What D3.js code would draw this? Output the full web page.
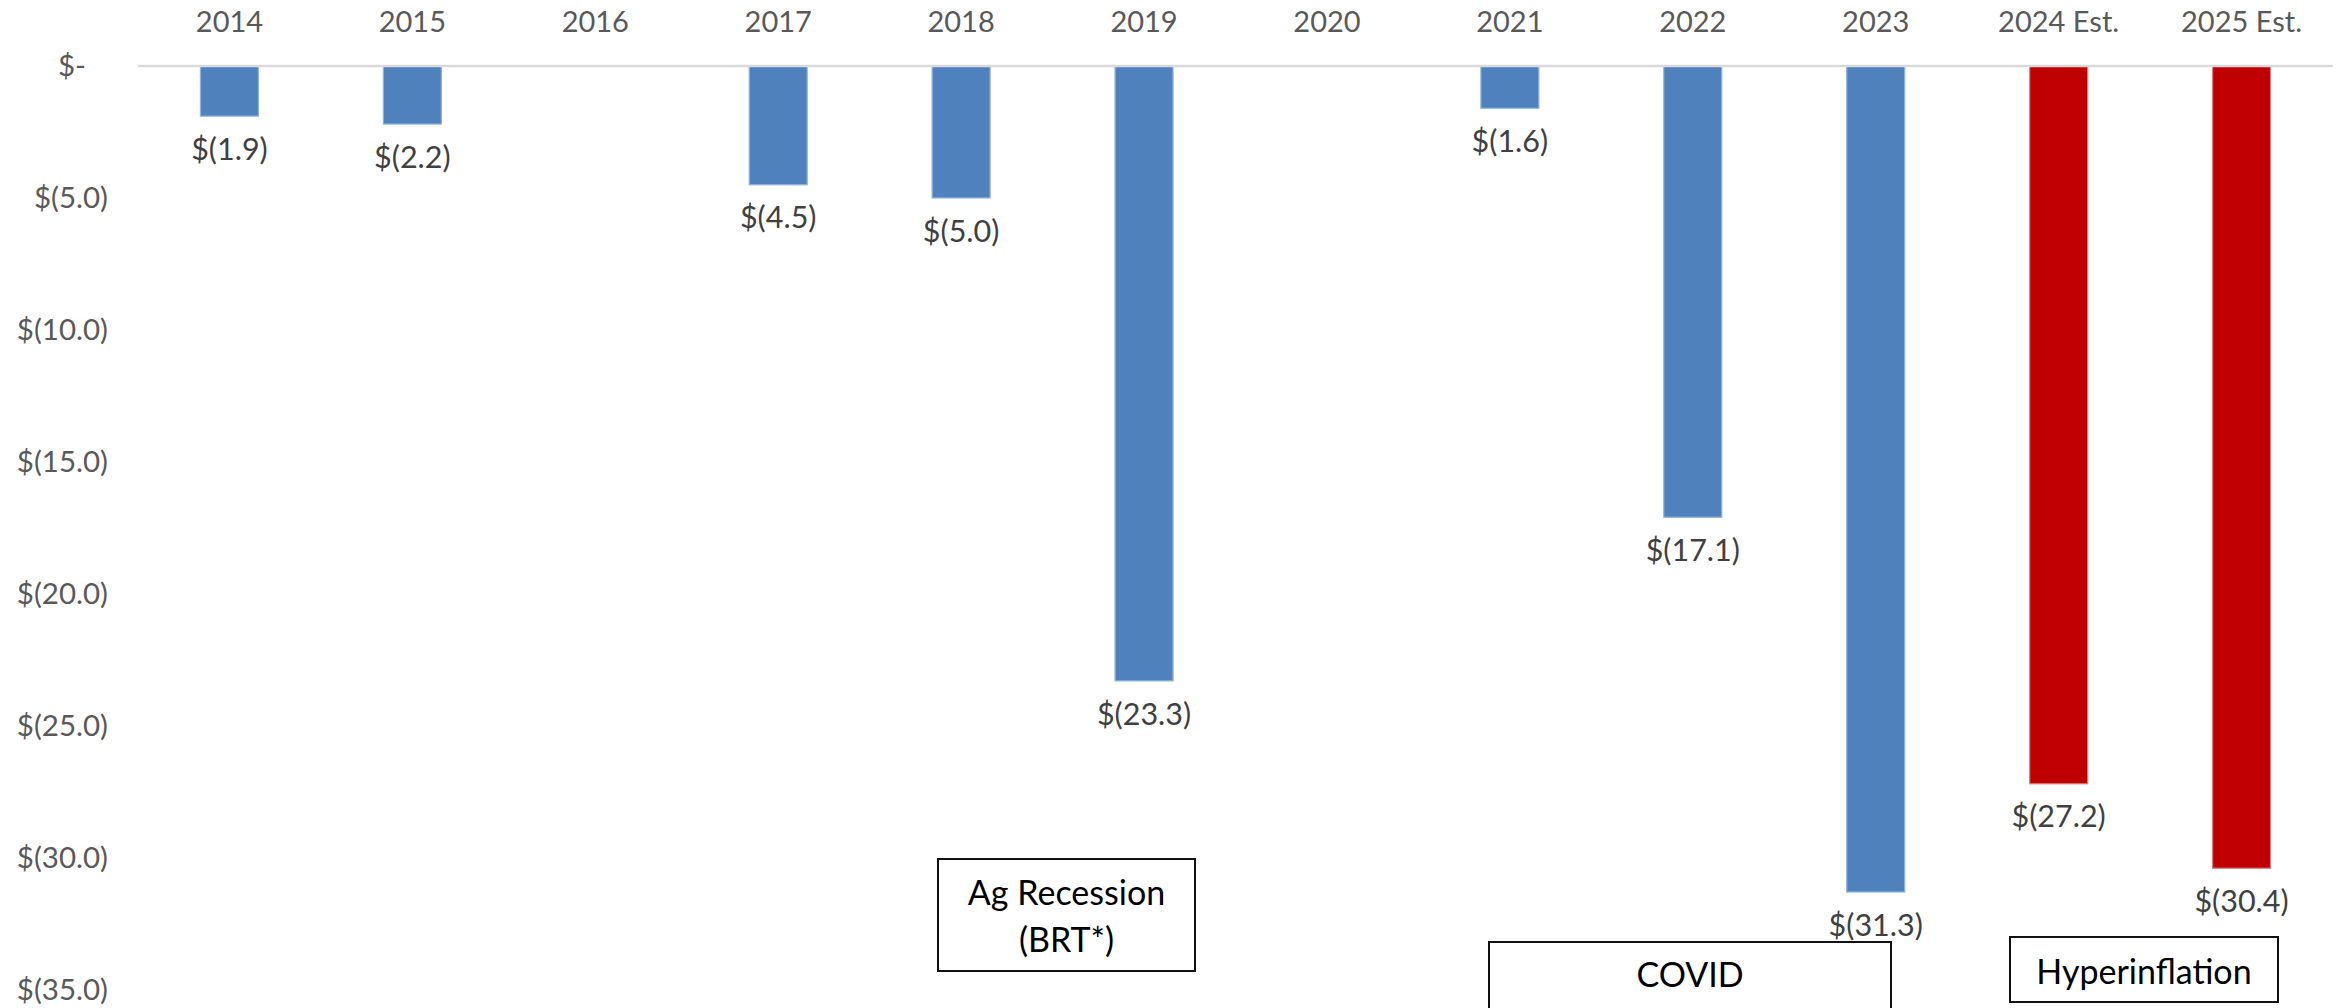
<!DOCTYPE html>
<html>
<head>
<meta charset="utf-8">
<script src="https://cdn.jsdelivr.net/npm/d3@7"></script>
<style>
  html, body { margin: 0; padding: 0; background: #fff; }
  svg { display: block; }
  text { font-family: Lato, "Open Sans", sans-serif; }
</style>
</head>
<body>
<svg id="chart" width="2343" height="1008"></svg>
<script>
// ---- data ----
const categories = ["2014", "2015", "2016", "2017", "2018", "2019", "2020", "2021", "2022", "2023", "2024 Est.", "2025 Est."];
const values = [-1.9, -2.2, null, -4.5, -5.0, -23.3, null, -1.6, -17.1, -31.3, -27.2, -30.4];
const isEstimate = [false, false, false, false, false, false, false, false, false, false, true, true];
const yTicks = [0, -5, -10, -15, -20, -25, -30, -35];
const annotationLines = [["Ag Recession", "(BRT*)"], ["COVID"], ["Hyperinflation"]];

// ---- layout ----
const W = 2343, H = 1008;
const plotLeft = 138, plotRight = 2333, zeroY = 66, pxPerUnit = 26.39;
const svg = d3.select("#chart");

const x = d3.scaleBand()
  .domain(categories)
  .range([plotLeft, plotRight])
  .paddingInner(0.683)
  .paddingOuter(0.3415);

const y = d3.scaleLinear()
  .domain([0, -35])
  .range([zeroY, zeroY + 35 * pxPerUnit]);

const fmt = v => v === 0 ? "$-" : `$(${Math.abs(v).toFixed(1)})`;

// y axis labels (no line)
const yAxis = d3.axisLeft(y).tickValues(yTicks).tickFormat(fmt).tickSize(0).tickPadding(0);
const gy = svg.append("g").attr("transform", `translate(108,0)`).call(yAxis);
gy.select(".domain").remove();
gy.selectAll("text")
  .attr("font-size", 29.5)
  .attr("fill", "#595959")
  .attr("font-family", "Lato, 'Open Sans', sans-serif")
  .attr("dx", d => d === 0 ? -22 : 0);

// category labels on top
const xAxis = d3.axisTop(x).tickSize(0).tickPadding(0);
const gx = svg.append("g").attr("transform", `translate(0,22)`).call(xAxis);
gx.select(".domain").remove();
gx.selectAll("text")
  .attr("font-size", 29)
  .attr("fill", "#595959")
  .attr("font-family", "Lato, 'Open Sans', sans-serif")
  .attr("dy", "0.35em");

// bars
const data = categories.map((c, i) => ({ c, v: values[i], est: isEstimate[i] })).filter(d => d.v !== null);

svg.append("g").selectAll("rect").data(data).join("rect")
  .attr("x", d => x(d.c))
  .attr("width", x.bandwidth())
  .attr("y", y(0))
  .attr("height", d => y(d.v) - y(0))
  .attr("fill", d => d.est ? "#C00000" : "#4F81BD")
  .attr("stroke", d => d.est ? "#D88080" : "#8DB3E2")
  .attr("stroke-width", 1.2);

// zero line
svg.append("line")
  .attr("x1", plotLeft).attr("x2", plotRight)
  .attr("y1", y(0)).attr("y2", y(0))
  .attr("stroke", "#D9D9D9").attr("stroke-width", 2.5);

// data labels
svg.append("g").selectAll("text").data(data).join("text")
  .attr("x", d => x(d.c) + x.bandwidth() / 2)
  .attr("y", d => y(d.v) + 33)
  .attr("text-anchor", "middle")
  .attr("dy", "0.35em")
  .attr("font-size", 30.5)
  .attr("fill", "#404040")
  .text(d => fmt(d.v));

// annotation boxes
const boxes = [
  { lines: annotationLines[0], x0: 938, y0: 859, x1: 1195, y1: 971, ty: [893, 940] },
  { lines: annotationLines[1], x0: 1489, y0: 942, x1: 1891, y1: 1040, ty: [975] },
  { lines: annotationLines[2], x0: 2010, y0: 937, x1: 2278, y1: 1002, ty: [972] }
];
const gb = svg.append("g");
boxes.forEach(b => {
  gb.append("rect")
    .attr("x", b.x0).attr("y", b.y0)
    .attr("width", b.x1 - b.x0).attr("height", b.y1 - b.y0)
    .attr("fill", "#fff").attr("stroke", "#111").attr("stroke-width", 2);
  b.lines.forEach((t, i) => {
    gb.append("text")
      .attr("x", (b.x0 + b.x1) / 2)
      .attr("y", b.ty[i])
      .attr("dy", "0.35em")
      .attr("text-anchor", "middle")
      .attr("font-size", 34)
      .attr("fill", "#000")
      .text(t);
  });
});
</script>
</body>
</html>
